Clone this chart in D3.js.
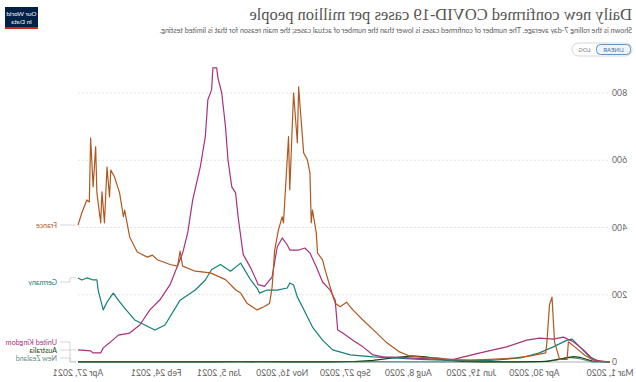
<!DOCTYPE html>
<html>
<head>
<meta charset="utf-8">
<script src="https://cdn.jsdelivr.net/npm/d3@7"></script>
<style>
  html, body { margin: 0; padding: 0; background: #fff; }
  svg { display: block; }
</style>
</head>
<body>
<svg width="636" height="382"></svg>
<script>
// series (cases per million, 7-day average)
const franceData = [
  ['2020-03-01', 0.2], ['2020-03-13', 3], ['2020-03-21', 20], ['2020-03-29', 45], ['2020-04-03', 60],
  ['2020-04-04', 8], ['2020-04-10', 8], ['2020-04-14', 60], ['2020-04-16', 193], ['2020-04-18', 170],
  ['2020-04-20', 60], ['2020-04-21', 27], ['2020-05-03', 18], ['2020-05-15', 12], ['2020-06-04', 8],
  ['2020-06-20', 6], ['2020-07-06', 7], ['2020-07-16', 12], ['2020-07-24', 12], ['2020-08-07', 18],
  ['2020-08-15', 30], ['2020-08-25', 57], ['2020-09-02', 86], ['2020-09-13', 125], ['2020-09-21', 155],
  ['2020-09-26', 178], ['2020-10-01', 164], ['2020-10-05', 175], ['2020-10-09', 223], ['2020-10-13', 274],
  ['2020-10-15', 304], ['2020-10-19', 324], ['2020-10-20', 384], ['2020-10-23', 452], ['2020-10-24', 414],
  ['2020-10-25', 562], ['2020-10-27', 601], ['2020-10-30', 622], ['2020-11-03', 818], ['2020-11-04', 652],
  ['2020-11-07', 800], ['2020-11-10', 512], ['2020-11-11', 670], ['2020-11-15', 414], ['2020-11-16', 432],
  ['2020-11-19', 393], ['2020-11-22', 333], ['2020-11-24', 223], ['2020-11-26', 175], ['2020-11-30', 165],
  ['2020-12-06', 155], ['2020-12-14', 175], ['2020-12-19', 205], ['2020-12-23', 215], ['2020-12-31', 245],
  ['2021-01-12', 265], ['2021-01-24', 270], ['2021-02-03', 285], ['2021-02-05', 330], ['2021-02-07', 285],
  ['2021-02-13', 290], ['2021-02-23', 304], ['2021-02-27', 318], ['2021-03-03', 312], ['2021-03-11', 327],
  ['2021-03-17', 372], ['2021-03-21', 452], ['2021-03-22', 432], ['2021-03-25', 503], ['2021-03-29', 550],
  ['2021-04-01', 571], ['2021-04-02', 491], ['2021-04-04', 580], ['2021-04-06', 414], ['2021-04-08', 506],
  ['2021-04-09', 414], ['2021-04-12', 503], ['2021-04-13', 640], ['2021-04-15', 521], ['2021-04-17', 666],
  ['2021-04-18', 476], ['2021-04-20', 482], ['2021-04-24', 443], ['2021-04-27', 407]
];

const ukData = [
  ['2020-03-01', 0], ['2020-03-14', 6], ['2020-03-22', 36], ['2020-03-30', 60], ['2020-04-07', 74],
  ['2020-04-15', 68], ['2020-04-26', 71], ['2020-05-06', 65], ['2020-05-22', 45], ['2020-06-12', 27],
  ['2020-07-03', 8], ['2020-07-22', 9], ['2020-08-15', 14], ['2020-08-28', 15], ['2020-09-05', 21],
  ['2020-09-13', 45], ['2020-09-21', 65], ['2020-09-29', 86], ['2020-10-03', 95], ['2020-10-05', 184],
  ['2020-10-09', 214], ['2020-10-15', 238], ['2020-10-20', 283], ['2020-10-25', 324], ['2020-10-29', 339],
  ['2020-11-03', 333], ['2020-11-10', 333], ['2020-11-12', 348], ['2020-11-16', 369], ['2020-11-20', 342],
  ['2020-11-24', 253], ['2020-11-30', 225], ['2020-12-05', 230], ['2020-12-11', 280], ['2020-12-17', 320],
  ['2020-12-21', 432], ['2020-12-23', 503], ['2020-12-26', 521], ['2020-12-29', 600], ['2020-12-31', 700],
  ['2021-01-03', 800], ['2021-01-06', 845], ['2021-01-07', 875], ['2021-01-10', 875], ['2021-01-11', 810],
  ['2021-01-14', 780], ['2021-01-16', 670], ['2021-01-20', 580], ['2021-01-26', 482], ['2021-01-30', 384],
  ['2021-02-03', 324], ['2021-02-13', 230], ['2021-02-21', 185], ['2021-03-01', 155], ['2021-03-09', 110],
  ['2021-03-17', 86], ['2021-03-26', 80], ['2021-04-02', 57], ['2021-04-07', 42], ['2021-04-09', 27],
  ['2021-04-15', 27], ['2021-04-17', 33], ['2021-04-27', 36]
];

const germanyData = [
  ['2020-03-01', 0], ['2020-03-09', 1], ['2020-03-17', 15], ['2020-03-25', 45], ['2020-03-31', 68],
  ['2020-04-04', 65], ['2020-04-15', 45], ['2020-04-26', 27], ['2020-05-11', 12], ['2020-06-04', 5],
  ['2020-07-06', 5], ['2020-07-30', 8], ['2020-08-20', 12], ['2020-09-05', 15], ['2020-09-23', 21],
  ['2020-10-07', 36], ['2020-10-15', 65], ['2020-10-23', 104], ['2020-10-27', 134], ['2020-10-31', 164],
  ['2020-11-04', 193], ['2020-11-07', 229], ['2020-11-10', 235], ['2020-11-12', 220], ['2020-11-20', 214],
  ['2020-11-28', 214], ['2020-12-04', 205], ['2020-12-06', 220], ['2020-12-11', 244], ['2020-12-19', 294],
  ['2020-12-27', 270], ['2021-01-04', 290], ['2021-01-11', 275], ['2021-01-16', 244], ['2021-01-24', 214],
  ['2021-02-05', 184], ['2021-02-17', 110], ['2021-02-25', 95], ['2021-03-05', 110], ['2021-03-13', 125],
  ['2021-03-21', 160], ['2021-03-26', 184], ['2021-03-30', 205], ['2021-04-04', 178], ['2021-04-07', 155],
  ['2021-04-09', 184], ['2021-04-11', 214], ['2021-04-12', 244], ['2021-04-15', 244], ['2021-04-20', 250],
  ['2021-04-24', 244], ['2021-04-27', 250]
];

const australiaData = [
  ['2020-03-01', 0], ['2020-03-15', 3], ['2020-03-25', 14], ['2020-03-30', 16], ['2020-04-08', 10],
  ['2020-04-20', 2], ['2020-05-10', 0.6], ['2020-06-10', 0.5], ['2020-06-25', 1.5], ['2020-07-10', 6],
  ['2020-07-25', 15], ['2020-08-05', 18], ['2020-08-20', 12], ['2020-09-05', 5], ['2020-09-20', 1.5],
  ['2020-10-10', 0.6], ['2020-11-10', 0.4], ['2020-12-20', 0.8], ['2021-01-10', 0.6], ['2021-02-10', 0.3],
  ['2021-03-10', 0.4], ['2021-04-27', 0.5]
];

const newZealandData = [
  ['2020-03-01', 0], ['2020-03-15', 0.5], ['2020-03-25', 10], ['2020-04-03', 14], ['2020-04-12', 6],
  ['2020-04-25', 1], ['2020-05-15', 0.1], ['2020-08-15', 0.5], ['2020-09-01', 1], ['2020-10-01', 0.5],
  ['2020-12-01', 0.5], ['2021-02-01', 0.3], ['2021-04-27', 0.3]
];

const countryNames = ['France', 'Germany', 'United Kingdom', 'Australia', 'New Zealand'];
const countryColors = ['#b0581f', '#138178', '#a8307e', '#18470f', '#5f8f86'];
const seriesData = [franceData, germanyData, ukData, australiaData, newZealandData];
const labelY = [225, 282, 342, 350, 358];

const yTicks = [0, 200, 400, 600, 800];
const xTickDates = ['2020-03-01', '2020-04-30', '2020-06-19', '2020-08-08', '2020-09-27',
  '2020-11-16', '2021-01-05', '2021-02-24', '2021-04-27'];

const titleText = 'Daily new confirmed COVID-19 cases per million people';
const subtitleText = 'Shown is the rolling 7-day average. The number of confirmed cases is lower than the number of actual cases; the main reason for that is limited testing.';

const parse = d3.timeParse('%Y-%m-%d');
const fmt = d3.timeFormat('%b %-d, %Y');

const svg = d3.select('svg');
// the reference is shown mirrored left-right
const root = svg.append('g').attr('transform', 'translate(636,0) scale(-1,1)');

const x = d3.scaleTime()
  .domain([parse('2020-03-01'), parse('2021-04-27')])
  .range([26, 558]);
const y = d3.scaleLinear()
  .domain([0, 800])
  .range([362, 93]);

// title block
root.append('text')
  .attr('x', 4).attr('y', 20)
  .attr('font-family', 'Liberation Serif, DejaVu Serif, serif')
  .attr('font-size', 16.5)
  .attr('fill', '#555')
  .text(titleText);

root.append('text')
  .attr('x', 4).attr('y', 33)
  .attr('font-family', 'Lato, sans-serif')
  .attr('font-size', 7.2)
  .attr('fill', '#5c5c5c')
  .text(subtitleText);

// linear / log toggle
const tog = root.append('g').attr('transform', 'translate(4,43)');
tog.append('rect').attr('x', 0).attr('y', 0).attr('width', 60).attr('height', 13).attr('rx', 6.5)
  .attr('fill', '#fff').attr('stroke', '#ccc').attr('stroke-width', 0.8);
tog.append('rect').attr('x', 1.5).attr('y', 1.5).attr('width', 34).attr('height', 10).attr('rx', 4)
  .attr('fill', '#eef4fb').attr('stroke', '#3b78b5').attr('stroke-width', 0.8);
tog.append('text').attr('x', 18.5).attr('y', 8.8).attr('text-anchor', 'middle')
  .attr('font-family', 'Lato, sans-serif').attr('font-size', 6).attr('fill', '#3b6ea5')
  .text('LINEAR');
tog.append('text').attr('x', 47.5).attr('y', 8.8).attr('text-anchor', 'middle')
  .attr('font-family', 'Lato, sans-serif').attr('font-size', 6).attr('fill', '#777')
  .text('LOG');

// logo
const logo = root.append('g').attr('transform', 'translate(598,7)');
logo.append('rect').attr('width', 33).attr('height', 22).attr('fill', '#002147');
logo.append('rect').attr('y', 20).attr('width', 33).attr('height', 2).attr('fill', '#ce261e');
logo.append('text').attr('x', 16.5).attr('y', 9).attr('text-anchor', 'middle')
  .attr('font-family', 'Lato, sans-serif').attr('font-size', 6.5).attr('fill', '#fff')
  .text('Our World');
logo.append('text').attr('x', 16.5).attr('y', 16.5).attr('text-anchor', 'middle')
  .attr('font-family', 'Lato, sans-serif').attr('font-size', 6.5).attr('fill', '#fff')
  .text('in Data');

// grid + y labels
root.append('g')
  .selectAll('line')
  .data(yTicks)
  .join('line')
  .attr('x1', 28).attr('x2', 558)
  .attr('y1', d => y(d)).attr('y2', d => y(d))
  .attr('stroke', d => d === 0 ? '#9a9a9a' : '#d8d8d8')
  .attr('stroke-width', d => d === 0 ? 0.8 : 0.7)
  .attr('stroke-dasharray', d => d === 0 ? null : '2,2');

root.append('g')
  .selectAll('text')
  .data(yTicks)
  .join('text')
  .attr('x', 24).attr('y', d => y(d) + 3)
  .attr('text-anchor', 'end')
  .attr('font-family', 'Lato, sans-serif')
  .attr('font-size', 8.7)
  .attr('fill', '#666')
  .text(d => d);

// x labels
root.append('g')
  .selectAll('text')
  .data(xTickDates)
  .join('text')
  .attr('x', d => x(parse(d)))
  .attr('y', 376)
  .attr('text-anchor', 'middle')
  .attr('font-family', 'Lato, sans-serif')
  .attr('font-size', 8.7)
  .attr('fill', '#5e5e5e')
  .text(d => fmt(parse(d)));

// lines
const line = d3.line()
  .x(d => x(parse(d[0])))
  .y(d => y(d[1]));

// draw small ones first so the big ones sit on top
const order = [4, 3, 1, 2, 0];
root.append('g')
  .selectAll('path')
  .data(order)
  .join('path')
  .attr('d', i => line(seriesData[i]))
  .attr('fill', 'none')
  .attr('stroke', i => countryColors[i])
  .attr('stroke-width', 1.2)
  .attr('stroke-linejoin', 'round');

// end labels with elbow connectors
const lab = root.append('g');
seriesData.forEach((s, i) => {
  const last = s[s.length - 1];
  const ey = y(last[1]);
  const ly = labelY[i];
  lab.append('path')
    .attr('d', `M560,${ey}H566V${ly}H576`)
    .attr('fill', 'none')
    .attr('stroke', '#bbb')
    .attr('stroke-width', 0.6);
  lab.append('text')
    .attr('x', 579).attr('y', ly + 2.5)
    .attr('font-family', 'Lato, sans-serif')
    .attr('font-size', 7.2)
    .attr('fill', countryColors[i])
    .text(countryNames[i]);
});
</script>
</body>
</html>
